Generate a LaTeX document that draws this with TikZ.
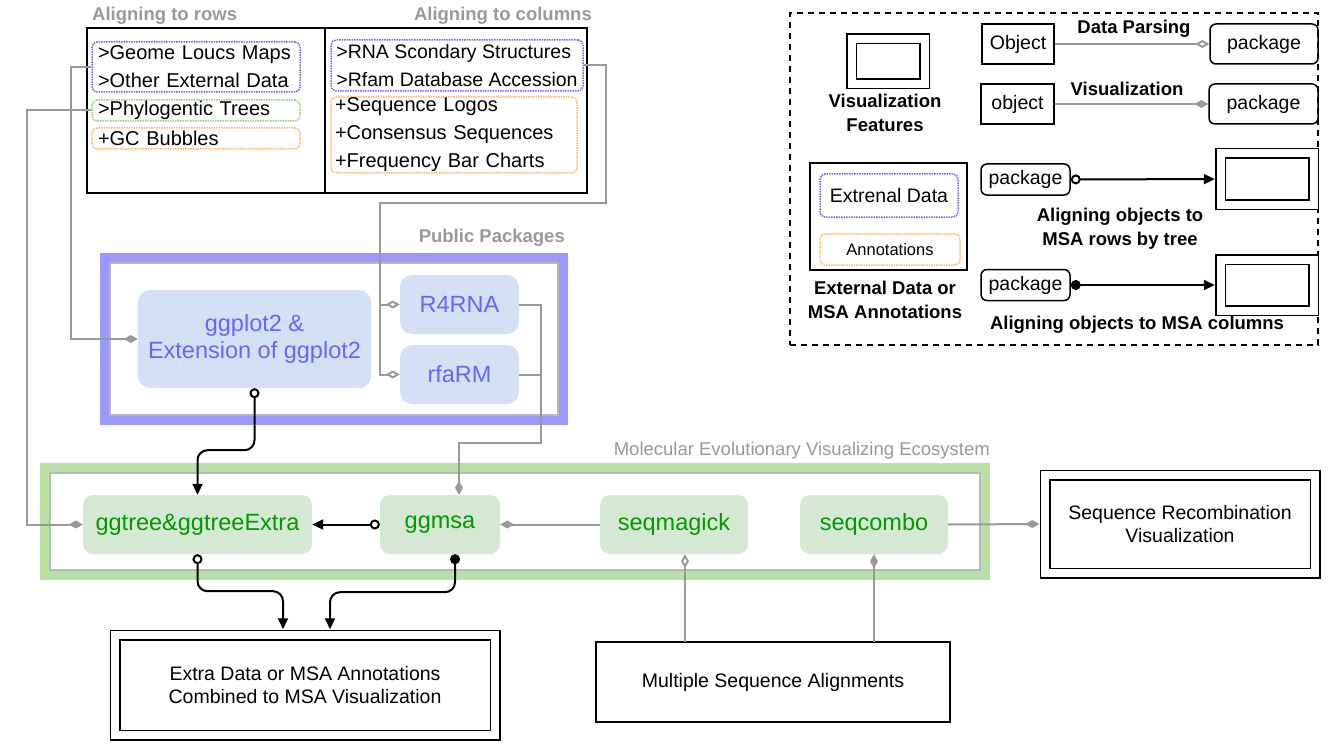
\documentclass[tikz,border=0pt]{standalone}
\usepackage{fontspec}
\setmainfont{Liberation Sans}
\usepackage{xcolor}
\usepackage{tikz}
\usetikzlibrary{shapes,arrows.meta}

\definecolor{ppline}{HTML}{9999FF}
\definecolor{ppfill}{HTML}{D4E1F5}
\definecolor{pptext}{HTML}{6666FF}
\definecolor{ecline}{HTML}{B9E0A5}
\definecolor{ecfill}{HTML}{D5E8D4}
\definecolor{ectext}{HTML}{009900}
\definecolor{lgray}{HTML}{999999}
\definecolor{dblue}{HTML}{6666FF}
\definecolor{dgreen}{HTML}{97D077}
\definecolor{dorange}{HTML}{FFB570}

\tikzset{
	tbl/.style={rectangle, draw=black, line width=1.5pt, inner sep=0pt},
	box/.style={rectangle, draw=black, line width=1.5pt, inner sep=0pt, align=center, font=\fontsize{19.5}{23}\selectfont},
	dbox/.style={box, double=white, double distance=8pt},
	pkg/.style={box, rounded corners=6pt},
	dotbox/.style={rectangle, rounded corners=5pt, densely dotted, line width=1.5pt, inner xsep=4pt, inner ysep=0pt, align=left, font=\fontsize{20}{28}\selectfont},
	blubox/.style={rectangle, rounded corners=12pt, fill=ppfill, text=pptext, inner sep=0pt, align=center, font=\fontsize{23.5}{27}\selectfont},
	grnbox/.style={rectangle, rounded corners=10pt, fill=ecfill, text=ectext, inner sep=0pt, align=center, font=\fontsize{23.5}{27}\selectfont},
	pframe/.style={rectangle, line width=10pt, inner sep=0pt},
	inframe/.style={rectangle, draw=lgray!70, line width=1.5pt, inner sep=0pt},
	gtitle/.style={text=lgray, inner sep=0pt, font=\bfseries\fontsize{18.5}{21}\selectfont},
	lbl/.style={inner sep=0pt, align=center, font=\bfseries\fontsize{18.5}{24}\selectfont},
	gline/.style={draw=lgray, line width=2pt},
	bline/.style={draw=black, line width=2pt},
	dmd/.tip={Diamond[length=14pt, width=8pt]},
	odmd/.tip={Diamond[open, length=14pt, width=8pt]},
	cir/.tip={Circle[length=10pt]},
	ocir/.tip={Circle[open, length=10pt]},
	tri/.tip={Triangle[length=11pt, width=10pt]}
}

\begin{document}
\begin{tikzpicture}[x=1pt, y=-1pt]
	\useasboundingbox (0,0) rectangle (1340,754);

	% aligning table
	\node (rows)[tbl, minimum width=238pt, minimum height=165pt] at (206,110.5) {};
	\node (cols)[tbl, minimum width=262pt, minimum height=165pt] at (456,110.5) {};
	\node (rt)[gtitle, anchor=west] at (92,16) {Aligning to rows};
	\node (ct)[gtitle, anchor=east] at (592,16) {Aligning to columns};

	\node (gl)[dotbox, draw=dblue, inner xsep=6pt, text width=196pt, minimum height=50pt] at (196,67) {>Geome Loucs Maps\\>Other External Data};
	\node (pt)[dotbox, draw=dgreen, inner xsep=6pt, text width=196pt, minimum height=21pt] at (196,110.5) {>Phylogentic Trees};
	\node (gc)[dotbox, draw=dorange, inner xsep=6pt, text width=196pt, minimum height=21pt] at (196,138.5) {+GC Bubbles};
	\node (rna)[dotbox, draw=dblue, inner xsep=2pt, font=\fontsize{19.5}{28}\selectfont, minimum width=252pt, minimum height=51pt] at (457,65.5) {>RNA Scondary Structures\\>Rfam Database Accession};
	\node (seq)[dotbox, draw=dorange, text width=238pt, minimum height=76pt] at (454,135) {+Sequence Logos\\+Consensus Sequences\\+Frequency Bar Charts};

	% public packages
	\node (pp)[pframe, draw=ppline, minimum width=458pt, minimum height=162pt] at (334,339) {};
	\node (ppin)[inframe, minimum width=448pt, minimum height=152pt] at (334,339) {};
	\node (ppt)[gtitle, anchor=east] at (565,238) {Public Packages};
	\node (gg)[blubox, minimum width=233pt, minimum height=98pt] at (254.5,339) {ggplot2 \&\\Extension of ggplot2};
	\node (r4)[blubox, minimum width=119pt, minimum height=59pt] at (459.5,304.5) {R4RNA};
	\node (rf)[blubox, minimum width=119pt, minimum height=59pt] at (459.5,374.5) {rfaRM};

	% ecosystem
	\node (eco)[pframe, draw=ecline, minimum width=940pt, minimum height=107pt] at (515,521.5) {};
	\node (ecoin)[inframe, minimum width=930pt, minimum height=97pt] at (515,521.5) {};
	\node (ecot)[text=lgray, inner sep=0pt, font=\fontsize{18.5}{21}\selectfont, anchor=east] at (990,451) {Molecular Evolutionary Visualizing Ecosystem};
	\node (gt)[grnbox, minimum width=229pt, minimum height=59pt] at (197.5,524.5) {ggtree\&ggtreeExtra};
	\node (gm)[grnbox, minimum width=120pt, minimum height=59pt] at (440,524.5) {ggmsa};
	\node (sm)[grnbox, minimum width=148pt, minimum height=59pt] at (674,524.5) {seqmagick};
	\node (sc)[grnbox, minimum width=148pt, minimum height=59pt] at (874,524.5) {seqcombo};

	% outputs
	\node (ex)[dbox, minimum width=380pt, minimum height=100pt] at (305,685) {Extra Data or MSA Annotations\\Combined to MSA Visualization};
	\node (msa)[box, minimum width=354pt, minimum height=80pt] at (773,682) {Multiple Sequence Alignments};
	\node (sr)[dbox, minimum width=270pt, minimum height=98pt] at (1180,524) {Sequence Recombination\\Visualization};

	% legend
	\node (leg)[rectangle, draw=black, line width=1.5pt, dash pattern=on 6pt off 5pt, minimum width=528pt, minimum height=332pt] at (1054,179) {};
	\node (vf)[dbox, minimum width=73pt, minimum height=45pt] at (888,61.5) {};
	\node (vfl)[lbl] at (885,113) {Visualization\\Features};
	\node (ob)[box, minimum width=72pt, minimum height=40pt] at (1018,44) {Object};
	\node (pk1)[pkg, minimum width=108pt, minimum height=40pt] at (1264,44) {package};
	\node (dpl)[lbl] at (1134,29) {Data Parsing};
	\node (ob2)[box, minimum width=73pt, minimum height=40pt] at (1017.5,104) {object};
	\node (pk2)[pkg, minimum width=109pt, minimum height=40pt] at (1263.5,104) {package};
	\node (vzl)[lbl] at (1127,89) {Visualization};
	\node (ed)[box, minimum width=157pt, minimum height=107pt] at (888.5,216.5) {};
	\node (edb)[dotbox, draw=dblue, align=center, font=\fontsize{19.5}{22}\selectfont, minimum width=138pt, minimum height=43pt] at (889,195.5) {Extrenal Data};
	\node (an)[dotbox, draw=dorange, align=center, font=\fontsize{16.5}{18}\selectfont, minimum width=140pt, minimum height=31pt] at (890,249.5) {Annotations};
	\node (edl)[lbl] at (885,300) {External Data or\\MSA Annotations};
	\node (pk3)[pkg, minimum width=89pt, minimum height=31pt] at (1025.5,179.5) {package};
	\node (vf2)[dbox, minimum width=93pt, minimum height=51pt] at (1267,179) {};
	\node (rwl)[lbl] at (1120,229) {Aligning objects to\\MSA rows by tree};
	\node (pk4)[pkg, minimum width=89pt, minimum height=31pt] at (1025.5,285) {package};
	\node (vf3)[dbox, minimum width=93pt, minimum height=51pt] at (1267,285) {};
	\node (cll)[lbl] at (1137,325) {Aligning objects to MSA columns};

	% links
	\coordinate (rb) at (380,203);
	\draw[gline, -dmd] (gl.west) -- ++(-20,0) |- (gg.west);
	\draw[gline, -dmd] (pt.west) -- ++(-64,0) |- (gt.west);
	\draw[gline, -odmd] (rna.east) -- ++(22,0) |- (rb) |- (rf.west);
	\draw[gline, -odmd] (rb) |- (r4.west);
	\draw[gline] (rf.east) -- ++(22,0);
	\draw[gline, -dmd] (r4.east) -- ++(22,0) |- (459,443) -- ([xshift=19pt]gm.north);

	\draw[bline, ocir-tri] (gm.west) -- (gt.east);
	\draw[bline, rounded corners=10pt, ocir-tri] (gg.south) -- ++(0,62) -| (gt.north);
	\draw[bline, rounded corners=10pt, ocir-tri, shorten >=5pt] (gt.south) -- ++(0,37) -| ([xshift=-22pt]ex.north);
	\draw[bline, rounded corners=10pt, cir-tri, shorten >=5pt] ([xshift=15pt]gm.south) -- ++(0,38) -| ([xshift=25pt]ex.north);

	\draw[gline, -dmd] (sm.west) -- (gm.east);
	\draw[gline, -dmd, shorten >=5pt] (sc.east) -- (sr.west);
	\draw[gline, odmd-] ([xshift=11pt]sm.south) -- ++(0,88);
	\draw[gline, dmd-] (sc.south) -- ++(0,88);

	\draw[gline, -odmd] (ob) -- (pk1);
	\draw[gline, -dmd] (ob2) -- (pk2);
	\draw[bline, ocir-tri, shorten >=5pt] (pk3) -- (vf2);
	\draw[bline, cir-tri, shorten >=5pt] (pk4) -- (vf3);
\end{tikzpicture}
\end{document}
